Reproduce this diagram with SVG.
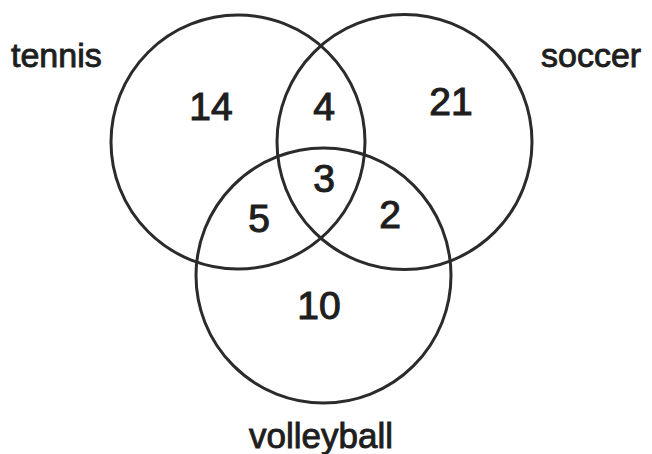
<svg xmlns="http://www.w3.org/2000/svg" width="652" height="454" viewBox="0 0 652 454">
<style>
.set{fill:none;stroke:#2b2b2b;stroke-width:3}
.lbl{font-family:"Liberation Sans",Arial,sans-serif;font-size:34px;fill:#1e1e1e;stroke:#1e1e1e;stroke-width:0.9}
.num{font-family:"Liberation Sans",Arial,sans-serif;font-size:39px;fill:#1e1e1e;stroke:#1e1e1e;stroke-width:1.1;text-anchor:middle}
</style>
<rect width="652" height="454" fill="#ffffff"/>
<g id="tennis">
<circle class="set" cx="238" cy="142" r="127"/>
<text class="lbl" x="11" y="67">tennis</text>
</g>
<g id="soccer">
<circle class="set" cx="404.5" cy="142" r="127.5"/>
<text class="lbl" x="541" y="67">soccer</text>
</g>
<g id="volleyball">
<circle class="set" cx="323.5" cy="275.5" r="127.5"/>
<text class="lbl" x="249" y="448" style="font-size:35px">volleyball</text>
</g>
<g id="counts">
<text class="num" x="211" y="120">14</text>
<text class="num" x="324" y="120">4</text>
<text class="num" x="451" y="115">21</text>
<text class="num" x="324" y="192">3</text>
<text class="num" x="259" y="232">5</text>
<text class="num" x="390" y="228">2</text>
<text class="num" x="319" y="319">10</text>
</g>
<g id="connectors"></g>
</svg>
